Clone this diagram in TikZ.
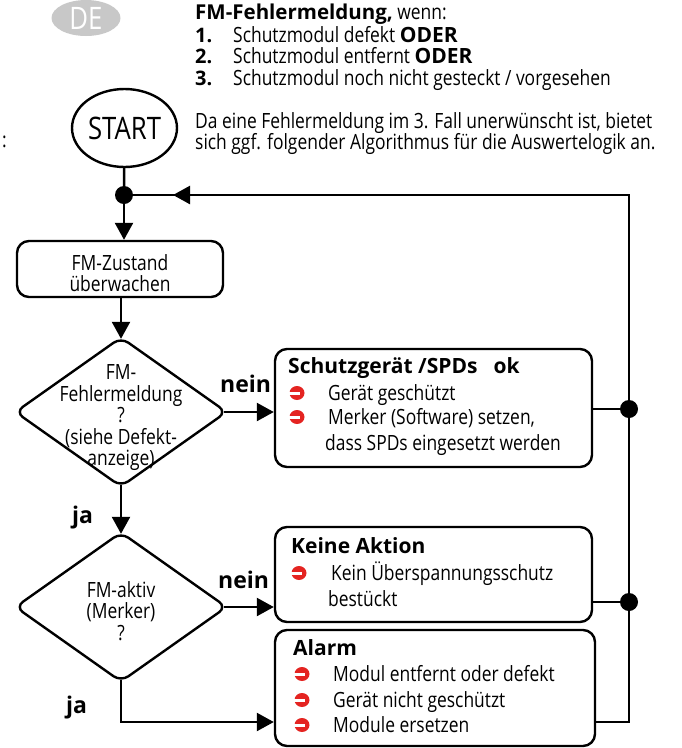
\documentclass[tikz,border=0pt]{standalone}
\usepackage{fontspec}
\setmainfont{Open Sans}[FakeStretch=0.83]
\newfontfamily\bsans{Open Sans}
\usetikzlibrary{shapes.geometric,arrows.meta}
\definecolor{bred}{RGB}{228,36,33}
\definecolor{degrey}{RGB}{200,200,200}
\newcommand\bword[1]{{\bsans\bfseries #1}}
\tikzset{
  lw/.style={line width=2.4pt},
  box/.style={draw, lw, rounded corners=12pt, inner sep=0pt},
  dia/.style={draw, lw, diamond, rounded corners=9pt, inner sep=0pt},
  arr/.style={lw, -{Triangle[length=17pt,width=18pt]}},
  ln/.style={lw},
  dotn/.style={circle, fill=black, inner sep=0pt, minimum size=18pt},
  txt/.style={inner sep=0pt, anchor=base west, font=\fontsize{21}{22}\selectfont},
  htxt/.style={inner sep=0pt, anchor=base west, font=\fontsize{21}{22}\selectfont},
  hnum/.style={inner sep=0pt, anchor=base west, font=\bsans\bfseries\fontsize{20}{22}\selectfont},
  ttl/.style={inner sep=0pt, anchor=base west, font=\bsans\bfseries\fontsize{21}{22}\selectfont},
  lbl/.style={inner sep=0pt, anchor=base west, font=\bsans\bfseries\fontsize{23}{24}\selectfont},
  ctxt/.style={inner sep=0pt, align=center, font=\fontsize{21}{21.5}\selectfont},
  rbul/.pic={\fill[bred] (0,0) ellipse (7.5 and 7); \fill[white] (-8.5,-1.5) rectangle (2.5,1.5);}
}
\begin{document}
\begin{tikzpicture}[x=1pt,y=-1pt]
\useasboundingbox (0,0) rectangle (682,748);
% header
\node[ellipse, fill=degrey, minimum width=69pt, minimum height=36pt, inner sep=0pt,
      text=white, font=\fontsize{31}{31}\selectfont] (de) at (86,18) {DE};
\node[htxt] (colon) at (2,147) {:};
\node[htxt] (h0) at (195,19) {{\bsans\bfseries\fontsize{20.5}{22}\selectfont FM-Fehlermeldung,} wenn:};
\node[hnum] (n1) at (195,42) {1.};
\node[htxt] (h1) at (233,42) {Schutzmodul defekt \bword{ODER}};
\node[hnum] (n2) at (195,63) {2.};
\node[htxt] (h2) at (233,63) {Schutzmodul entfernt \bword{ODER}};
\node[hnum] (n3) at (195,85) {3.};
\node[htxt] (h3) at (233,85) {Schutzmodul noch nicht gesteckt / vorgesehen};
\node[htxt] (p1) at (195,128) {Da eine Fehlermeldung im 3. Fall unerwünscht ist, bietet};
\node[htxt] (p2) at (195,149) {sich ggf. folgender Algorithmus für die Auswertelogik an.};
% start
\node[ellipse, draw, lw, minimum width=105pt, minimum height=78pt, inner sep=0pt,
      font=\fontsize{31}{31}\selectfont] (start) at (124.5,128) {START};
\coordinate (j0) at (124,195);
\coordinate (tr) at (629,195);
\coordinate (ah) at (173,195);
% process box
\node[box, minimum width=206pt, minimum height=56pt] (z) at (120,269) {};
\node[ctxt] (zt) at (120,273) {FM-Zustand\\überwachen};
% diamonds
\node[dia, minimum width=212pt, minimum height=150pt] (d1) at (121,412) {};
\node[ctxt] (d1t) at (121,418) {FM-\\Fehlermeldung\\?\\(siehe Defekt-\\anzeige)};
\node[dia, minimum width=212pt, minimum height=150pt] (d2) at (121,607) {};
\node[ctxt] (d2t) at (121,611) {FM-aktiv\\(Merker)\\?};
% result boxes
\node[box, minimum width=317pt, minimum height=118pt] (s1) at (433.5,408) {};
\node[box, minimum width=317pt, minimum height=95pt] (s2) at (433.5,574.5) {};
\node[box, minimum width=320pt, minimum height=116pt] (s3) at (435,688) {};
% box texts
\node[ttl] (s1a) at (288,373) {Schutzgerät /SPDs\hspace{16pt}ok};
\pic at (297,393) {rbul};
\node[txt] (s1b) at (328,400) {Gerät geschützt};
\pic at (297,417) {rbul};
\node[txt] (s1c) at (328,424) {Merker (Software) setzen,};
\node[txt] (s1d) at (325,450) {dass SPDs eingesetzt werden};
\node[ttl] (s2a) at (291,553) {Keine Aktion};
\pic at (299,573) {rbul};
\node[txt] (s2b) at (331,580) {Kein Überspannungsschutz};
\node[txt] (s2c) at (328,606) {bestückt};
\node[ttl] (s3a) at (293,655) {Alarm};
\pic at (302,674) {rbul};
\node[txt] (s3b) at (333,681) {Modul entfernt oder defekt};
\pic at (302,700) {rbul};
\node[txt] (s3c) at (333,707) {Gerät nicht geschützt};
\pic at (302,725) {rbul};
\node[txt] (s3d) at (333,732) {Module ersetzen};
% labels
\node[lbl] (nein1) at (220,392) {nein};
\node[lbl] (ja1) at (72,523) {ja};
\node[lbl] (nein2) at (218,588) {nein};
\node[lbl] (ja2) at (66,713) {ja};
% connector points
\coordinate (j1) at (629,409);
\coordinate (j2) at (629,602);
\coordinate (ar) at (629,722);
\coordinate (ab) at (121,722);
% connectors
\draw[ln] (start) -- (j0);
\draw[arr] (tr) -- (ah);
\draw[ln] (ah) -- (j0);
\draw[arr] (j0) -- (j0 |- z.north);
\draw[arr, shorten >=-3pt] (d1.north |- z.south) -- (d1.north);
\draw[arr, shorten <=-4pt] (d1.east) -- (d1.east -| s1.west);
\draw[ln] (s1.east |- j1) -- (j1);
\draw[arr, shorten <=-3pt, shorten >=-3pt] (d1.south) -- (d2.north);
\draw[arr, shorten <=-4pt] (d2.east) -- (d2.east -| s2.west);
\draw[ln] (s2.east |- j2) -- (j2);
\draw[arr, shorten <=-3pt] (d2.south) -- (ab) -- (ab -| s3.west);
\draw[ln] (s3.east |- ar) -- (ar) -- (tr) -- (ah);
% dots
\node[dotn] (j0d) at (j0) {};
\node[dotn] (j1d) at (j1) {};
\node[dotn] (j2d) at (j2) {};
\end{tikzpicture}
\end{document}
